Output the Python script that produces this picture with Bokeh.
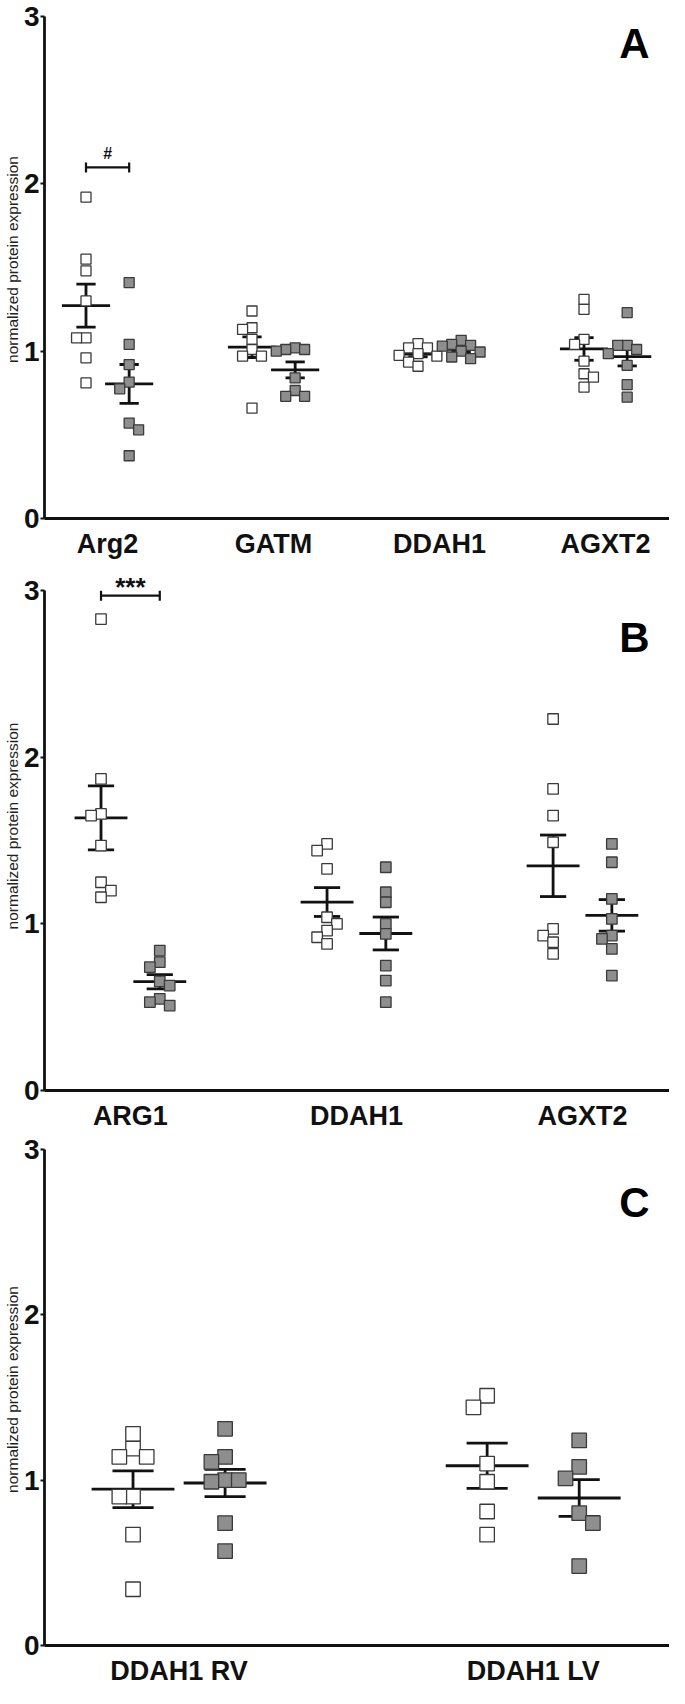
import numpy as np
from bokeh.plotting import figure
from bokeh.layouts import column
from bokeh.models import Range1d, FixedTicker, Label
from bokeh.embed import file_html
from bokeh.resources import INLINE

# ---------------- data ----------------
a_categories = ["Arg2", "GATM", "DDAH1", "AGXT2"]
a_white = [
    [1.92, 1.55, 1.48, 1.30, 1.08, 1.08, 0.96, 0.81],
    [1.24, 1.14, 1.13, 1.07, 1.01, 0.97, 0.97, 0.66],
    [1.045, 1.02, 1.02, 0.985, 0.975, 0.97, 0.935, 0.91],
    [1.31, 1.25, 1.07, 1.04, 0.94, 0.865, 0.845, 0.785],
]
a_gray = [
    [1.41, 1.04, 0.92, 0.815, 0.775, 0.57, 0.53, 0.375],
    [1.02, 1.01, 1.01, 1.00, 0.84, 0.765, 0.73, 0.73],
    [1.065, 1.04, 1.035, 1.03, 1.00, 0.995, 0.965, 0.955],
    [1.23, 1.035, 1.035, 1.01, 0.985, 0.915, 0.80, 0.725],
]
a_sig_label = "#"
a_sig_category = 0

b_categories = ["ARG1", "DDAH1", "AGXT2"]
b_white = [
    [2.83, 1.87, 1.66, 1.65, 1.47, 1.25, 1.20, 1.16],
    [1.48, 1.44, 1.33, 1.04, 1.00, 0.96, 0.92, 0.88],
    [2.23, 1.81, 1.65, 1.49, 0.97, 0.93, 0.89, 0.82],
]
b_gray = [
    [0.84, 0.77, 0.74, 0.655, 0.63, 0.55, 0.53, 0.51],
    [1.34, 1.19, 1.13, 1.00, 0.94, 0.75, 0.66, 0.53],
    [1.48, 1.37, 1.15, 1.03, 0.93, 0.91, 0.85, 0.69],
]
b_sig_label = "***"
b_sig_category = 0

c_categories = ["DDAH1 RV", "DDAH1 LV"]
c_white = [
    [1.28, 1.19, 1.14, 1.14, 0.90, 0.90, 0.67, 0.34],
    [1.51, 1.44, 1.10, 0.99, 0.81, 0.67],
]
c_gray = [
    [1.31, 1.14, 1.11, 1.00, 1.00, 0.99, 0.74, 0.57],
    [1.24, 1.08, 1.01, 0.80, 0.74, 0.48],
]

y_ticks = [0, 1, 2, 3]
y_title = "normalized protein expression"

# ---------------- style ----------------
FONT = "Liberation Sans"
PAGE_W = 669
LEFT = 40
FRAME_W = PAGE_W - LEFT
GROUP_OFF = 0.13
CAP_HW = 0.058
LINE_C = "#111111"
EDGE_C = "#3a3a3a"
GRAY_C = "#8e8e8e"
LW = 2.8


def beeswarm(values, ppu_y, size_px, step_x):
    thr = 0.9 * size_px
    placed, offsets = [], []
    nl = nr = 0
    for v in values:
        y = v * ppu_y
        k = 0
        chosen = None
        while chosen is None:
            cands = [0] if k == 0 else ([-k, k] if nl <= nr else [k, -k])
            for c in cands:
                if all(not (pc == c and abs(py - y) < thr) for pc, py in placed):
                    chosen = c
                    break
            k += 1
        placed.append((chosen, y))
        if chosen < 0:
            nl += 1
        elif chosen > 0:
            nr += 1
        offsets.append(chosen * step_x)
    return offsets


def panel(cats, white, gray, height, bottom, top_gap, msize, mean_hw, letter, letter_y,
          sig=None, sig_y=None, sig_text_y=None, sig_font="16px"):
    n = len(cats)
    x0, x1 = 0.62, n + 0.385
    frame_h = height - bottom
    ppu_y = (frame_h - top_gap) / 3.0
    y_end = frame_h / ppu_y
    upp_x = (x1 - x0) / FRAME_W

    p = figure(width=PAGE_W, height=height, x_range=Range1d(x0, x1), y_range=Range1d(0, y_end),
               output_backend="svg", toolbar_location=None,
               min_border_left=LEFT, min_border_right=0, min_border_top=0,
               min_border_bottom=bottom)
    p.outline_line_color = None
    p.grid.visible = False
    p.background_fill_color = "white"
    p.border_fill_color = "white"

    # x axis
    p.xaxis.ticker = FixedTicker(ticks=list(range(1, n + 1)))
    p.xaxis.major_label_overrides = {i + 1: c for i, c in enumerate(cats)}
    p.xaxis.major_tick_line_color = None
    p.xaxis.minor_tick_line_color = None
    p.xaxis.major_label_standoff = 4
    p.xaxis.major_label_text_font = FONT
    p.xaxis.major_label_text_font_style = "bold"
    p.xaxis.major_label_text_font_size = "27px"
    p.xaxis.major_label_text_color = "#111111"
    p.xaxis.axis_line_width = LW
    p.xaxis.axis_line_color = LINE_C

    # y axis
    p.yaxis.ticker = FixedTicker(ticks=y_ticks)
    p.yaxis.bounds = (0, 3)
    p.yaxis.minor_tick_line_color = None
    p.yaxis.major_tick_out = 4
    p.yaxis.major_tick_in = 0
    p.yaxis.major_tick_line_width = 2
    p.yaxis.major_tick_line_color = LINE_C
    p.yaxis.major_label_standoff = 1
    p.yaxis.major_label_text_font = FONT
    p.yaxis.major_label_text_font_style = "bold"
    p.yaxis.major_label_text_font_size = "28px"
    p.yaxis.major_label_text_color = "#111111"
    p.yaxis.axis_line_width = LW
    p.yaxis.axis_line_color = LINE_C
    p.yaxis.axis_label = y_title
    p.yaxis.axis_label_text_font = FONT
    p.yaxis.axis_label_text_font_style = "normal"
    p.yaxis.axis_label_text_font_size = "15.5px"
    p.yaxis.axis_label_standoff = 0
    p.yaxis.axis_label_text_color = "#222222"

    sx0, sy0, sx1, sy1 = [], [], [], []
    pts = {"white": ([], []), "gray": ([], [])}
    step_x = 0.95 * msize * upp_x
    for i in range(n):
        for key, vals, off in (("white", white[i], -GROUP_OFF), ("gray", gray[i], GROUP_OFF)):
            xc = i + 1 + off
            arr = np.array(vals, dtype=float)
            m = arr.mean()
            sem = arr.std(ddof=1) / np.sqrt(len(arr))
            sx0.append(xc - mean_hw); sx1.append(xc + mean_hw); sy0.append(m); sy1.append(m)
            sx0.append(xc); sx1.append(xc); sy0.append(m - sem); sy1.append(m + sem)
            for yy in (m - sem, m + sem):
                sx0.append(xc - CAP_HW); sx1.append(xc + CAP_HW); sy0.append(yy); sy1.append(yy)
            offs = beeswarm(vals, ppu_y, msize, step_x)
            pts[key][0].extend([xc + o for o in offs])
            pts[key][1].extend(vals)

    p.segment(sx0, sy0, sx1, sy1, line_width=LW, line_color=LINE_C)
    p.scatter(pts["white"][0], pts["white"][1], marker="square", size=msize,
              fill_color="white", line_color=EDGE_C, line_width=1.3)
    p.scatter(pts["gray"][0], pts["gray"][1], marker="square", size=msize,
              fill_color=GRAY_C, line_color=EDGE_C, line_width=1.3)

    if sig is not None:
        label, ci = sig
        xa, xb = ci + 1 - GROUP_OFF, ci + 1 + GROUP_OFF
        dy = 5.0 / ppu_y
        p.segment([xa, xa, xb], [sig_y, sig_y - dy, sig_y - dy], [xb, xa, xb], [sig_y, sig_y + dy, sig_y + dy],
                  line_width=2.2, line_color=LINE_C)
        p.add_layout(Label(x=ci + 1, y=sig_text_y, text=label, text_align="center",
                           text_baseline="middle", text_font=FONT, text_font_style="bold",
                           text_font_size=sig_font, text_color="#111111"))

    p.add_layout(Label(x=x0 + 0.944 * (x1 - x0), y=letter_y, text=letter, text_align="center",
                       text_baseline="middle", text_font=FONT, text_font_style="bold",
                       text_font_size="42px", text_color="#000000"))
    return p


pA = panel(a_categories, a_white, a_gray, height=561, bottom=43, top_gap=16, msize=10,
           mean_hw=0.145, letter="A", letter_y=2.84,
           sig=(a_sig_label, a_sig_category), sig_y=2.098, sig_text_y=2.18, sig_font="16px")
pB = panel(b_categories, b_white, b_gray, height=572, bottom=36, top_gap=29.6, msize=10.5,
           mean_hw=0.117, letter="B", letter_y=2.72,
           sig=(b_sig_label, b_sig_category), sig_y=2.97, sig_text_y=3.02, sig_font="26px")
pC = panel(c_categories, c_white, c_gray, height=555, bottom=36, top_gap=16, msize=14.5,
           mean_hw=0.117, letter="C", letter_y=2.68)

layout = column(pA, pB, pC, spacing=0)
open("out.html", "w").write(file_html(layout, INLINE))
